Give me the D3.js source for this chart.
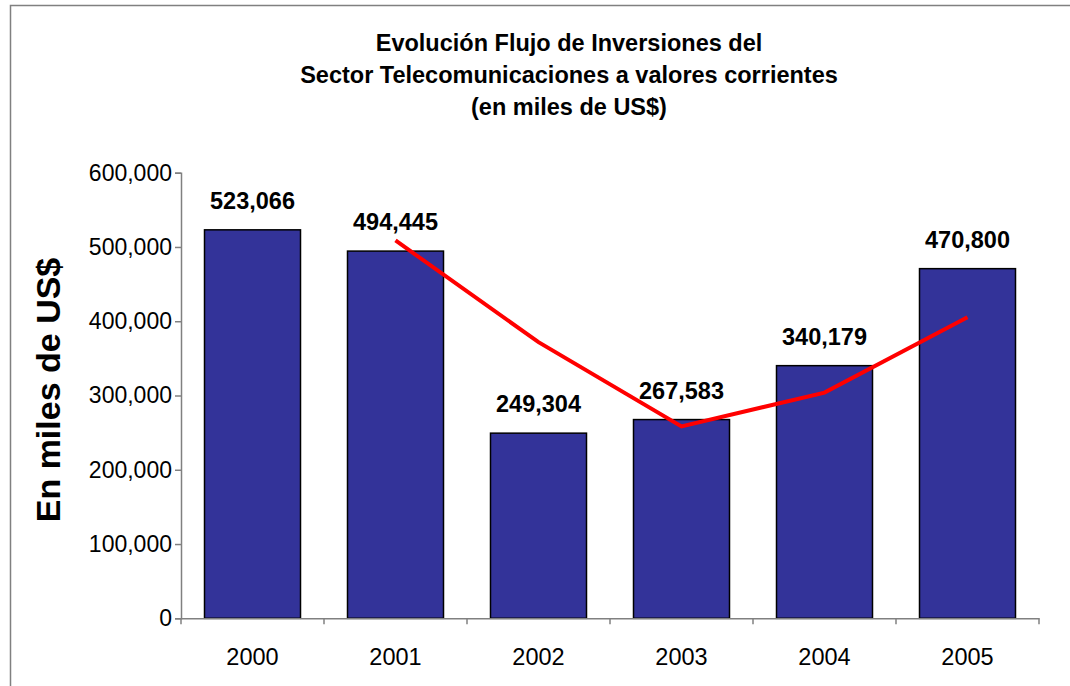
<!DOCTYPE html>
<html>
<head>
<meta charset="utf-8">
<script src="https://cdn.jsdelivr.net/npm/d3@7"></script>
<style>
  html, body { margin: 0; padding: 0; background: #fff; }
  svg { display: block; font-family: "Liberation Sans", Arial, sans-serif; }
</style>
</head>
<body>
<svg id="chart" width="1070" height="686"></svg>
<script>
const years = ["2000", "2001", "2002", "2003", "2004", "2005"];
const investments = [523066, 494445, 249304, 267583, 340179, 470800];
const trendYears = ["2001", "2002", "2003", "2004", "2005"];
const trendValues = [508755, 371875, 258444, 303881, 405490];
const yTicks = [0, 100000, 200000, 300000, 400000, 500000, 600000];
const titleLines = [
  "Evolución Flujo de Inversiones del",
  "Sector Telecomunicaciones a valores corrientes",
  "(en miles de US$)"
];
const yTitle = "En miles de US$";

const svg = d3.select("#chart");
const fmt = d3.format(",");

const plotLeft = 181, plotRight = 1039, plotTop = 172.7, plotBottom = 618.3;

// outer border
svg.append("rect")
  .attr("x", 10.5).attr("y", 5.5)
  .attr("width", 1100).attr("height", 700)
  .attr("fill", "none").attr("stroke", "#808080").attr("stroke-width", 1.5);

const xc = d3.scaleBand().domain(years).range([plotLeft, plotRight]);
const y = d3.scaleLinear().domain([0, 600000]).range([plotBottom, plotTop]);

// title
svg.append("g").selectAll("text").data(titleLines).join("text")
  .attr("x", 569).attr("y", (d, i) => 51 + i * 32)
  .attr("text-anchor", "middle")
  .attr("font-size", 23.5).attr("font-weight", "bold").attr("fill", "#000")
  .text(d => d);

// bars
svg.append("g").selectAll("rect").data(years).join("rect")
  .attr("x", d => xc(d) + xc.bandwidth() / 2 - 48)
  .attr("width", 96)
  .attr("y", (d, i) => y(investments[i]))
  .attr("height", (d, i) => y(0) - y(investments[i]))
  .attr("fill", "#333399").attr("stroke", "#000").attr("stroke-width", 1.5);

// y axis
const yAxis = svg.append("g").attr("transform", `translate(${plotLeft},0)`)
  .call(d3.axisLeft(y).tickValues(yTicks).tickFormat(fmt).tickSize(6).tickPadding(3));
yAxis.select(".domain").attr("stroke", "#808080").attr("stroke-width", 1.5);
yAxis.selectAll(".tick line").attr("stroke", "#808080").attr("stroke-width", 1.5);
yAxis.selectAll(".tick text").attr("font-size", 23).attr("fill", "#000")
  .attr("font-family", "Liberation Sans, Arial, sans-serif");

// x axis
const xAxis = svg.append("g").attr("transform", `translate(0,${plotBottom})`)
  .call(d3.axisBottom(xc).tickSize(0).tickPadding(30));
xAxis.select(".domain").attr("stroke", "#808080").attr("stroke-width", 1.5);
xAxis.selectAll(".tick text").attr("font-size", 23.5).attr("fill", "#000")
  .attr("font-family", "Liberation Sans, Arial, sans-serif");
const bounds = years.map(d => xc(d)).concat([xc(years[years.length - 1]) + xc.bandwidth()]);
svg.append("g").selectAll("line").data(bounds).join("line")
  .attr("x1", d => d).attr("x2", d => d)
  .attr("y1", plotBottom).attr("y2", plotBottom + 6)
  .attr("stroke", "#808080").attr("stroke-width", 1.5);

// trend line
const line = d3.line()
  .x(d => xc(d.year) + xc.bandwidth() / 2)
  .y(d => y(d.value));
svg.append("path")
  .datum(trendYears.map((yr, i) => ({ year: yr, value: trendValues[i] })))
  .attr("d", line)
  .attr("fill", "none").attr("stroke", "#ff0000").attr("stroke-width", 4);

// data labels
svg.append("g").selectAll("text").data(years).join("text")
  .attr("x", d => xc(d) + xc.bandwidth() / 2)
  .attr("y", (d, i) => y(investments[i]) - 21)
  .attr("text-anchor", "middle")
  .attr("font-size", 23.5).attr("font-weight", "bold").attr("fill", "#000")
  .text((d, i) => fmt(investments[i]));

// y axis title
svg.append("text")
  .attr("transform", "translate(60,390) rotate(-90)")
  .attr("text-anchor", "middle")
  .attr("font-size", 34).attr("font-weight", "bold").attr("fill", "#000")
  .text(yTitle);
</script>
</body>
</html>
